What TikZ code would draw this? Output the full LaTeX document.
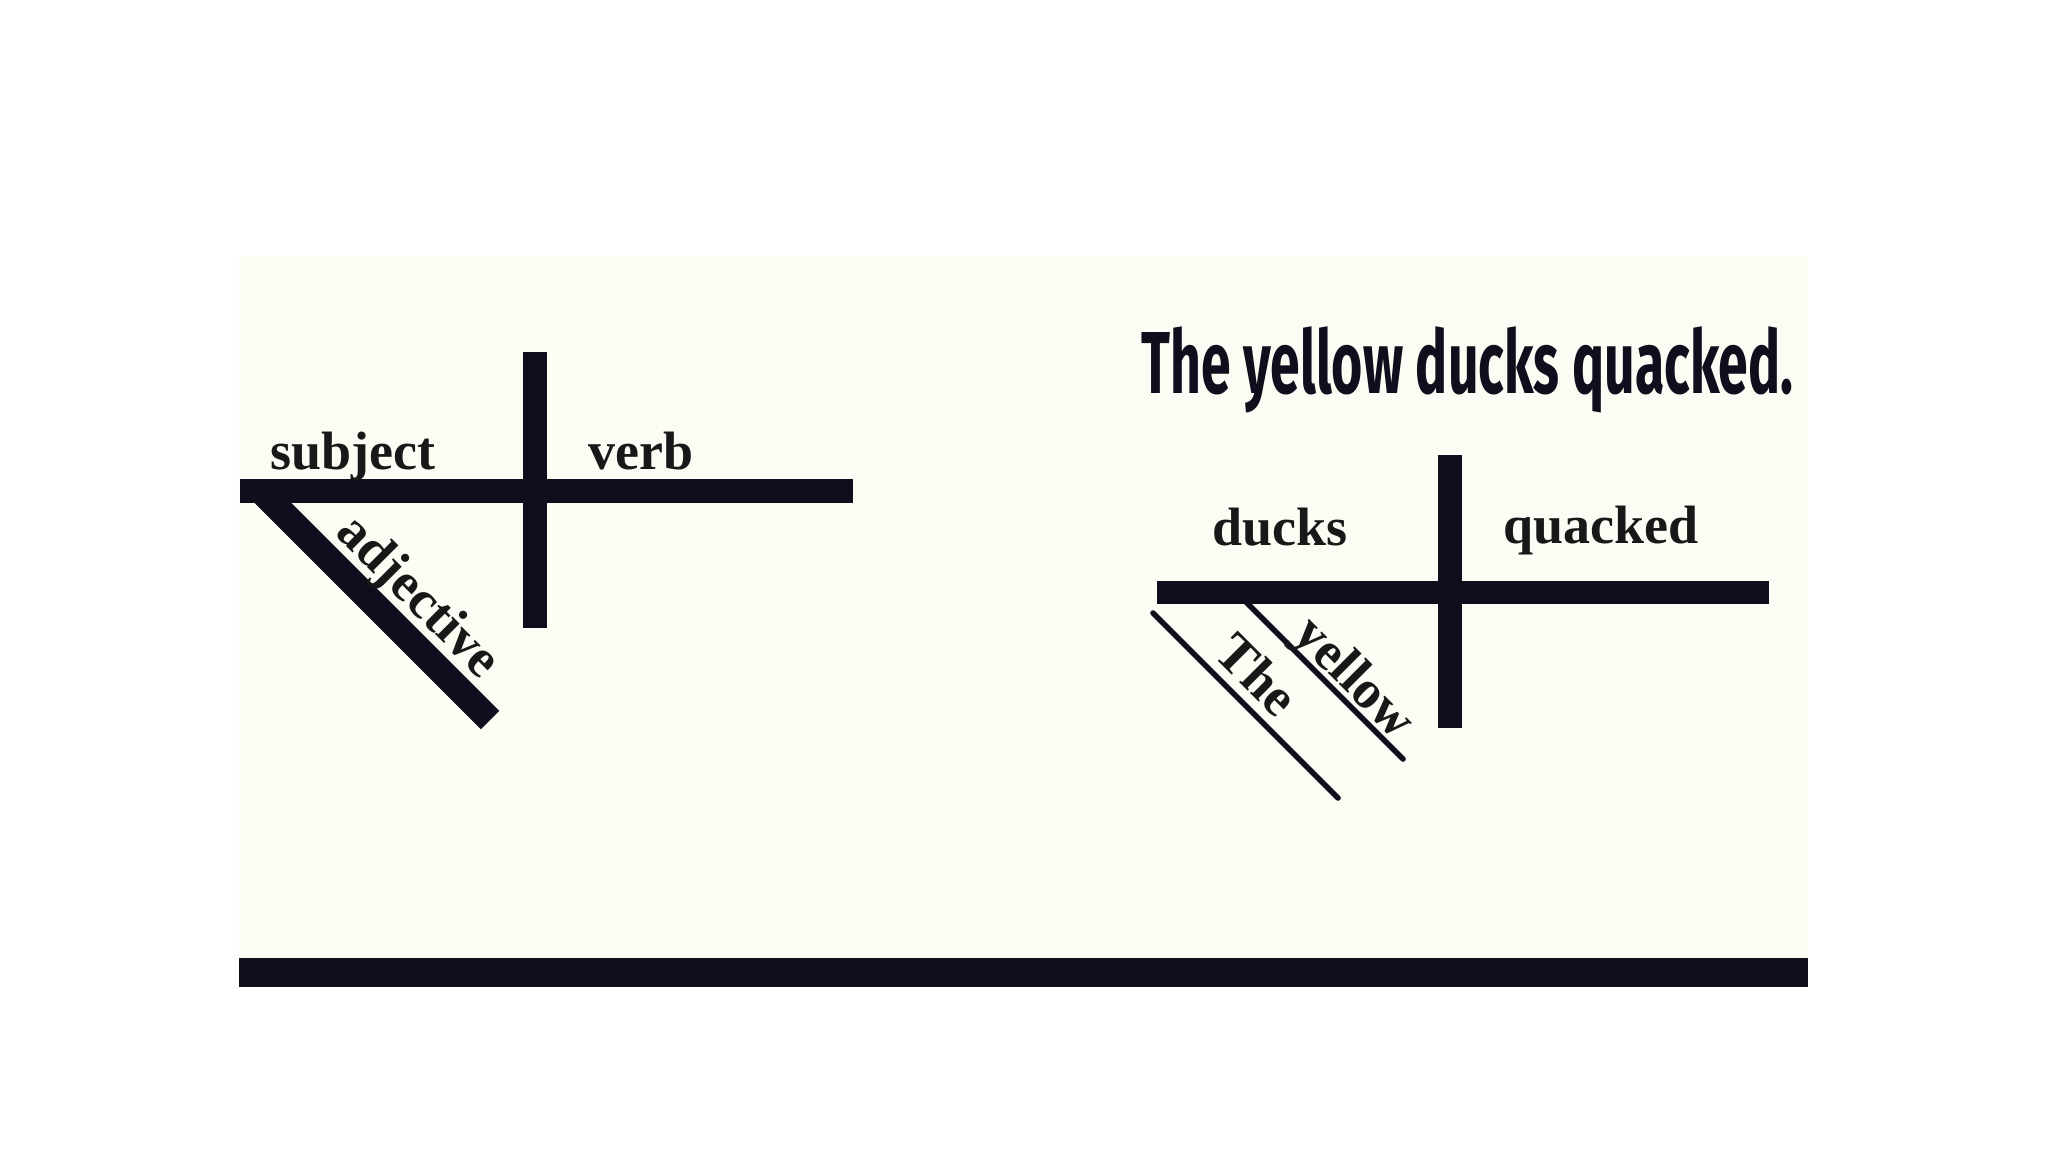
\documentclass[tikz,border=0pt]{standalone}
\usepackage{fontspec}
\usepackage{graphicx}
\setmainfont{Liberation Serif}
\newfontfamily\titlefont{Fira Sans}
\definecolor{cream}{HTML}{FCFCF4}
\definecolor{ink}{HTML}{0E0E1D}
\definecolor{txt}{HTML}{181818}
\tikzset{
  label/.style={inner sep=0pt, text=txt, font=\fontsize{27pt}{32pt}\selectfont\bfseries},
  thick bar/.style={draw=ink, line width=12pt, line cap=butt},
  thin bar/.style={draw=ink, line width=2.8pt, line cap=round},
}
\begin{document}
\begin{tikzpicture}[x=0.5pt, y=-0.5pt]
\useasboundingbox (0,0) rectangle (2048,1152);
\fill[white] (0,0) rectangle (2048,1152);
\fill[cream] (239,256) rectangle (1808,958);
\fill[ink] (239,958) rectangle (1808,987);

% ---------- left diagram ----------
\coordinate (LhA) at (240,491);
\coordinate (LhB) at (853,491);
\coordinate (LvA) at (535,352);
\coordinate (LvB) at (535,628);
\coordinate (LdA) at (262,492);
\coordinate (LdB) at (490,720);
\draw[thick bar] (LhA) -- (LhB);
\draw[thick bar] (LvA) -- (LvB);
\draw[thick bar, line width=13pt] (LdA) -- (LdB);
\node[label, anchor=base west] (subj) at (270,469) {subject};
\node[label, anchor=base west] (verb) at (588,469) {verb};
\node[label, anchor=base, rotate=-45] (adj) at (407.6,607.4) {adjective};

% ---------- right diagram ----------
\node[inner sep=0pt, anchor=base west, text=ink] (title) at (1141,393)
  {\resizebox{326pt}{\height}{\titlefont\bfseries\fontsize{44pt}{50pt}\selectfont The yellow ducks quacked.}};
\coordinate (RhA) at (1157,592);
\coordinate (RhB) at (1769,592);
\coordinate (RvA) at (1450,455);
\coordinate (RvB) at (1450,728);
\coordinate (RtA) at (1153,613);
\coordinate (RtB) at (1338,798);
\coordinate (RyA) at (1236,592);
\coordinate (RyB) at (1403,759);
\draw[thick bar, line width=11.5pt] (RhA) -- (RhB);
\draw[thick bar] (RvA) -- (RvB);
\draw[thin bar] (RtA) -- (RtB);
\draw[thin bar] (RyA) -- (RyB);
\node[label, anchor=base west] (ducks) at (1212,545) {ducks};
\node[label, anchor=base west] (quacked) at (1503,543) {quacked};
\node[label, anchor=base, rotate=-45] (the) at (1244.4,687.4) {The};
\node[label, anchor=base, rotate=-45] (yellow) at (1343.3,688.9) {yellow};
\end{tikzpicture}
\end{document}
